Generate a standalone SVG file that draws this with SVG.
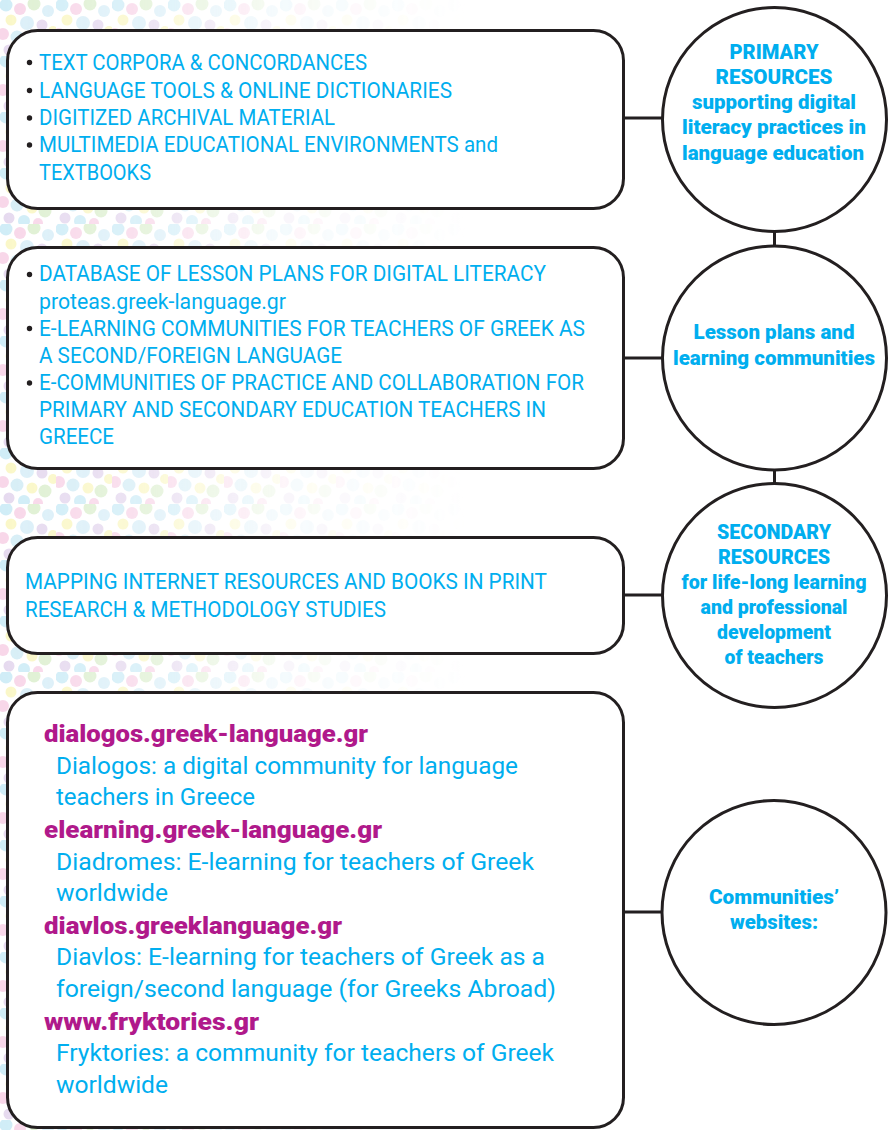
<svg xmlns="http://www.w3.org/2000/svg" width="889" height="1130" viewBox="0 0 889 1130">
  <defs>
    <style>
      .box { fill: #ffffff; stroke: #231f20; stroke-width: 3; }
      .ring { fill: #ffffff; stroke: #231f20; stroke-width: 3; }
      .wire { stroke: #231f20; stroke-width: 3; fill: none; }
      .item { font-family: Roboto, "Liberation Sans", sans-serif; font-size: 22px; fill: #00aeef; }
      .desc { font-family: Roboto, "Liberation Sans", sans-serif; font-size: 24px; fill: #00aeef; }
      .url { font-family: Roboto, "Liberation Sans", sans-serif; font-size: 23px; font-weight: 900; fill: #b0198b; }
      .label { font-family: Roboto, "Liberation Sans", sans-serif; font-size: 19.5px; font-weight: 900; fill: #00aeef; text-anchor: middle; }
      .dot { fill: #231f20; }
    </style>
    <!-- halftone dots used for the soft left backdrop -->
    <pattern id="halftone" width="56" height="56" patternUnits="userSpaceOnUse">
      <g opacity="0.42">
        <circle cx="6" cy="5" r="6.5" fill="#8fd3ec"/>
        <circle cx="20" cy="9" r="6" fill="#ee9fcb"/>
        <circle cx="34" cy="4" r="6.5" fill="#b3dc95"/>
        <circle cx="48" cy="11" r="6" fill="#a9d9ee"/>
        <circle cx="11" cy="20" r="5.5" fill="#f4ec7c"/>
        <circle cx="27" cy="23" r="7" fill="#a9d9ee"/>
        <circle cx="42" cy="25" r="5.5" fill="#c3a6d8"/>
        <circle cx="53" cy="31" r="5" fill="#f4ec7c"/>
        <circle cx="3" cy="34" r="6" fill="#ee9fcb"/>
        <circle cx="17" cy="37" r="6.5" fill="#9fd5ea"/>
        <circle cx="32" cy="40" r="5.5" fill="#f4ec7c"/>
        <circle cx="45" cy="43" r="6.5" fill="#b3dc95"/>
        <circle cx="9" cy="50" r="5.5" fill="#c3a6d8"/>
        <circle cx="24" cy="53" r="6" fill="#8fd3ec"/>
        <circle cx="38" cy="55" r="5" fill="#ee9fcb"/>
      </g>
    </pattern>
    <linearGradient id="fade" x1="0" y1="0" x2="1" y2="0">
      <stop offset="0" stop-color="#fff" stop-opacity="1"/>
      <stop offset="0.3" stop-color="#fff" stop-opacity="0.75"/>
      <stop offset="0.6" stop-color="#fff" stop-opacity="0.25"/>
      <stop offset="1" stop-color="#fff" stop-opacity="0"/>
    </linearGradient>
    <mask id="fadeMask" maskUnits="userSpaceOnUse" x="0" y="0" width="889" height="1130">
      <rect x="0" y="0" width="470" height="1130" fill="url(#fade)"/>
    </mask>
  </defs>

  <rect x="0" y="0" width="889" height="1130" fill="#ffffff"/>
  <rect x="0" y="0" width="470" height="1130" fill="url(#halftone)" mask="url(#fadeMask)"/>

  <!-- connectors -->
  <g id="connectors">
    <line class="wire" x1="624" y1="118" x2="662" y2="118"/>
    <line class="wire" x1="624" y1="358" x2="662" y2="358"/>
    <line class="wire" x1="624" y1="595" x2="662" y2="595"/>
    <line class="wire" x1="624" y1="912" x2="662" y2="912"/>
    <line class="wire" x1="774.5" y1="231" x2="774.5" y2="247"/>
    <line class="wire" x1="774.5" y1="469" x2="774.5" y2="484"/>
  </g>

  <!-- primary resources list -->
  <g id="box-primary">
    <rect class="box" x="7.5" y="30.5" width="616" height="178" rx="30"/>
    <circle class="dot" cx="29.5" cy="62.5" r="2.7"/>
    <circle class="dot" cx="29.5" cy="90.5" r="2.7"/>
    <circle class="dot" cx="29.5" cy="118" r="2.7"/>
    <circle class="dot" cx="29.5" cy="145" r="2.7"/>
    <text class="item" x="39" y="69.5" textLength="328" lengthAdjust="spacingAndGlyphs">TEXT CORPORA &amp; CONCORDANCES</text>
    <text class="item" x="39" y="97.5" textLength="413" lengthAdjust="spacingAndGlyphs">LANGUAGE TOOLS &amp; ONLINE DICTIONARIES</text>
    <text class="item" x="39" y="125" textLength="296" lengthAdjust="spacingAndGlyphs">DIGITIZED ARCHIVAL MATERIAL</text>
    <text class="item" x="39" y="152" textLength="459" lengthAdjust="spacingAndGlyphs">MULTIMEDIA EDUCATIONAL ENVIRONMENTS and</text>
    <text class="item" x="39" y="179.5" textLength="112" lengthAdjust="spacingAndGlyphs">TEXTBOOKS</text>
  </g>

  <!-- lesson plans and communities list -->
  <g id="box-lessons">
    <rect class="box" x="7.5" y="247.5" width="616" height="221" rx="30"/>
    <circle class="dot" cx="29.5" cy="274.5" r="2.7"/>
    <circle class="dot" cx="29.5" cy="328.5" r="2.7"/>
    <circle class="dot" cx="29.5" cy="383" r="2.7"/>
    <text class="item" x="39" y="281" textLength="507" lengthAdjust="spacingAndGlyphs">DATABASE OF LESSON PLANS FOR DIGITAL LITERACY</text>
    <text class="item" x="39" y="308.5" textLength="247" lengthAdjust="spacingAndGlyphs">proteas.greek-language.gr</text>
    <text class="item" x="39" y="335.5" textLength="546" lengthAdjust="spacingAndGlyphs">E-LEARNING COMMUNITIES FOR TEACHERS OF GREEK AS</text>
    <text class="item" x="39" y="362.5" textLength="303" lengthAdjust="spacingAndGlyphs">A SECOND/FOREIGN LANGUAGE</text>
    <text class="item" x="39" y="389.5" textLength="545" lengthAdjust="spacingAndGlyphs">E-COMMUNITIES OF PRACTICE AND COLLABORATION FOR</text>
    <text class="item" x="39" y="416.5" textLength="507" lengthAdjust="spacingAndGlyphs">PRIMARY AND SECONDARY EDUCATION TEACHERS IN</text>
    <text class="item" x="39" y="443.5" textLength="75" lengthAdjust="spacingAndGlyphs">GREECE</text>
  </g>

  <!-- secondary resources list -->
  <g id="box-secondary">
    <rect class="box" x="7.5" y="537.5" width="616" height="116" rx="30"/>
    <text class="item" x="25" y="589" textLength="522" lengthAdjust="spacingAndGlyphs">MAPPING INTERNET RESOURCES AND BOOKS IN PRINT</text>
    <text class="item" x="25" y="616.5" textLength="361" lengthAdjust="spacingAndGlyphs">RESEARCH &amp; METHODOLOGY STUDIES</text>
  </g>

  <!-- community websites list -->
  <g id="box-websites">
    <rect class="box" x="7.5" y="692.5" width="616" height="435" rx="30"/>
    <text class="url" x="44" y="741.5" textLength="324" lengthAdjust="spacingAndGlyphs">dialogos.greek-language.gr</text>
    <text class="desc" x="56" y="773.5" textLength="462" lengthAdjust="spacingAndGlyphs">Dialogos: a digital community for language</text>
    <text class="desc" x="56" y="805" textLength="199" lengthAdjust="spacingAndGlyphs">teachers in Greece</text>
    <text class="url" x="44" y="837.5" textLength="338" lengthAdjust="spacingAndGlyphs">elearning.greek-language.gr</text>
    <text class="desc" x="56" y="869.5" textLength="478" lengthAdjust="spacingAndGlyphs">Diadromes: E-learning for teachers of Greek</text>
    <text class="desc" x="56" y="901" textLength="112" lengthAdjust="spacingAndGlyphs">worldwide</text>
    <text class="url" x="44" y="933.5" textLength="298" lengthAdjust="spacingAndGlyphs">diavlos.greeklanguage.gr</text>
    <text class="desc" x="56" y="965" textLength="489" lengthAdjust="spacingAndGlyphs">Diavlos: E-learning for teachers of Greek as a</text>
    <text class="desc" x="56" y="996.5" textLength="500" lengthAdjust="spacingAndGlyphs">foreign/second language (for Greeks Abroad)</text>
    <text class="url" x="44" y="1029.5" textLength="215" lengthAdjust="spacingAndGlyphs">www.fryktories.gr</text>
    <text class="desc" x="56" y="1061" textLength="498" lengthAdjust="spacingAndGlyphs">Fryktories: a community for teachers of Greek</text>
    <text class="desc" x="56" y="1092.5" textLength="112" lengthAdjust="spacingAndGlyphs">worldwide</text>
  </g>

  <!-- category circles -->
  <g id="circle-primary">
    <circle class="ring" cx="774.5" cy="119.5" r="112"/>
    <text class="label" x="774" y="58.5" textLength="89" lengthAdjust="spacingAndGlyphs">PRIMARY</text>
    <text class="label" x="774" y="83.5" textLength="117" lengthAdjust="spacingAndGlyphs">RESOURCES</text>
    <text class="label" x="774" y="109" textLength="164" lengthAdjust="spacingAndGlyphs">supporting digital</text>
    <text class="label" x="774" y="134" textLength="184" lengthAdjust="spacingAndGlyphs">literacy practices in</text>
    <text class="label" x="773" y="159.5" textLength="182" lengthAdjust="spacingAndGlyphs">language education</text>
  </g>

  <g id="circle-lessons">
    <circle class="ring" cx="774.5" cy="358" r="112"/>
    <text class="label" x="774" y="339" textLength="161" lengthAdjust="spacingAndGlyphs">Lesson plans and</text>
    <text class="label" x="774" y="364.5" textLength="202" lengthAdjust="spacingAndGlyphs">learning communities</text>
  </g>

  <g id="circle-secondary">
    <circle class="ring" cx="774.5" cy="595.5" r="112"/>
    <text class="label" x="774" y="538.5" textLength="114" lengthAdjust="spacingAndGlyphs">SECONDARY</text>
    <text class="label" x="774" y="563.5" textLength="112" lengthAdjust="spacingAndGlyphs">RESOURCES</text>
    <text class="label" x="774" y="588.5" textLength="185" lengthAdjust="spacingAndGlyphs">for life-long learning</text>
    <text class="label" x="774" y="613.5" textLength="147" lengthAdjust="spacingAndGlyphs">and professional</text>
    <text class="label" x="774" y="638.5" textLength="114" lengthAdjust="spacingAndGlyphs">development</text>
    <text class="label" x="774" y="663.5" textLength="99" lengthAdjust="spacingAndGlyphs">of teachers</text>
  </g>

  <g id="circle-websites">
    <circle class="ring" cx="774" cy="912.5" r="112"/>
    <text class="label" x="774" y="903.5" textLength="130" lengthAdjust="spacingAndGlyphs">Communities’</text>
    <text class="label" x="774" y="929" textLength="88" lengthAdjust="spacingAndGlyphs">websites:</text>
  </g>
</svg>
